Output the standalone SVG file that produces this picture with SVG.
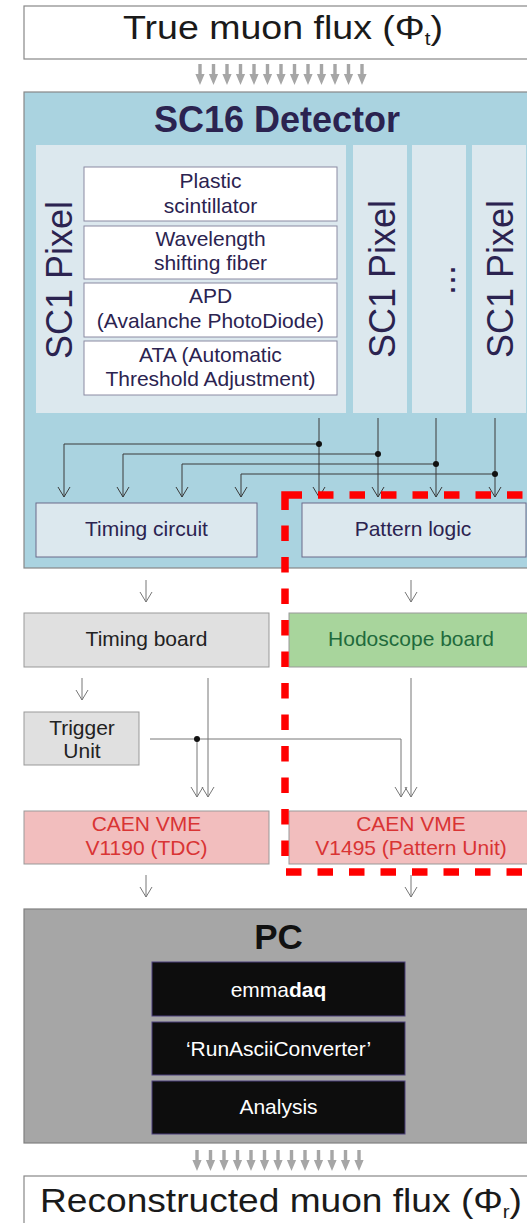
<svg xmlns="http://www.w3.org/2000/svg" width="527" height="1223" viewBox="0 0 527 1223">
<style>
text{font-family:"Liberation Sans",Arial,sans-serif}
.nv{fill:#2b2350}
.lb{font-size:21px;text-anchor:middle}
.cd{fill:none;stroke:#3a3a3a;stroke-width:1}
.cg{fill:none;stroke:#777;stroke-width:1}
.inner{fill:#fff;stroke:#8a8aa2;stroke-width:1}
.col{fill:#dce8ee}
.blk{fill:#0d0d0d;stroke:#4a3f7a;stroke-width:1}
.red{fill:none;stroke:#ff0000;stroke-width:7.5}
</style>
<defs>
<marker id="ad" viewBox="-11 -7 12 14" refX="0" refY="0" markerWidth="12" markerHeight="14" markerUnits="userSpaceOnUse" orient="auto"><path d="M-10,-6 L0,0 L-10,6" fill="none" stroke="#3a3a3a" stroke-width="1"/></marker>
<marker id="ag" viewBox="-11 -7 12 14" refX="0" refY="0" markerWidth="12" markerHeight="14" markerUnits="userSpaceOnUse" orient="auto"><path d="M-10,-6 L0,0 L-10,6" fill="none" stroke="#777" stroke-width="1"/></marker>
<path id="fa" d="M-1.7,0 H1.7 V10 H4.6 L0,21 L-4.6,10 H-1.7 Z" fill="#a6a6a6"/>
</defs>

<g id="true-flux">
<rect x="24" y="6" width="520" height="53" fill="#fff" stroke="#888" stroke-width="1.2"/>
<text x="123" y="39" font-size="33" textLength="320" lengthAdjust="spacingAndGlyphs" fill="#1a1a1a">True muon flux (Φ<tspan font-size="18" dy="6">t</tspan><tspan dy="-6">)</tspan></text>
</g>

<g id="flux-arrows-top">
<use href="#fa" x="200" y="64"/><use href="#fa" x="213.5" y="64"/><use href="#fa" x="227" y="64"/><use href="#fa" x="240.5" y="64"/><use href="#fa" x="254" y="64"/><use href="#fa" x="267.5" y="64"/><use href="#fa" x="281" y="64"/><use href="#fa" x="294.5" y="64"/><use href="#fa" x="308" y="64"/><use href="#fa" x="321.5" y="64"/><use href="#fa" x="335" y="64"/><use href="#fa" x="348.5" y="64"/><use href="#fa" x="362" y="64"/>
</g>

<g id="sc16-detector">
<rect x="24" y="92" width="520" height="476" fill="#aad3e0" stroke="#888" stroke-width="1.2"/>
<text x="277" y="132" font-size="36" font-weight="bold" text-anchor="middle" class="nv">SC16 Detector</text>
</g>

<g id="pixel-1">
<rect class="col" x="36" y="145" width="310" height="268"/>
<text transform="translate(71.5,280) rotate(-90)" font-size="36" text-anchor="middle" class="nv">SC1 Pixel</text>
</g>
<g id="plastic-scintillator">
<rect class="inner" x="84" y="167" width="253" height="54"/>
<text class="lb nv" x="210.5" y="188">Plastic</text>
<text class="lb nv" x="210.5" y="213">scintillator</text>
</g>
<g id="wls-fiber">
<rect class="inner" x="84" y="226" width="253" height="53"/>
<text class="lb nv" x="210.5" y="246">Wavelength</text>
<text class="lb nv" x="210.5" y="270">shifting fiber</text>
</g>
<g id="apd">
<rect class="inner" x="84" y="283" width="253" height="54"/>
<text class="lb nv" x="210.5" y="303">APD</text>
<text class="lb nv" x="210.5" y="328">(Avalanche PhotoDiode)</text>
</g>
<g id="ata">
<rect class="inner" x="84" y="341" width="253" height="54"/>
<text class="lb nv" x="210.5" y="362">ATA (Automatic</text>
<text class="lb nv" x="210.5" y="386">Threshold Adjustment)</text>
</g>
<g id="pixel-2">
<rect class="col" x="353" y="145" width="54" height="268"/>
<text transform="translate(395,279) rotate(-90)" font-size="36" text-anchor="middle" class="nv">SC1 Pixel</text>
</g>
<g id="pixel-dots">
<rect class="col" x="412" y="145" width="54" height="268"/>
<text transform="translate(455,280) rotate(-90)" font-size="36" text-anchor="middle" class="nv">...</text>
</g>
<g id="pixel-n">
<rect class="col" x="472" y="145" width="54" height="268"/>
<text transform="translate(513,279) rotate(-90)" font-size="36" text-anchor="middle" class="nv">SC1 Pixel</text>
</g>

<g id="timing-circuit">
<rect x="36" y="503" width="221" height="54" fill="#dce8ee" stroke="#6a6a8a" stroke-width="1"/>
<text class="lb nv" x="146.5" y="536">Timing circuit</text>
</g>
<g id="pattern-logic">
<rect x="302" y="503" width="224" height="54" fill="#dce8ee" stroke="#6a6a8a" stroke-width="1"/>
<text class="lb nv" x="413" y="536">Pattern logic</text>
</g>

<g id="timing-board">
<rect x="24" y="613" width="245" height="54" fill="#e0e0e0" stroke="#999" stroke-width="1"/>
<text class="lb" x="146.5" y="646" fill="#222">Timing board</text>
</g>
<g id="hodoscope-board">
<rect x="289" y="613" width="250" height="54" fill="#a8d59c" stroke="#999" stroke-width="1"/>
<text class="lb" x="411" y="646" fill="#1f6b3c">Hodoscope board</text>
</g>
<g id="trigger-unit">
<rect x="24" y="712" width="115" height="53" fill="#e0e0e0" stroke="#999" stroke-width="1"/>
<text class="lb" x="82" y="735" fill="#222">Trigger</text>
<text class="lb" x="82" y="758" fill="#222">Unit</text>
</g>
<g id="caen-v1190">
<rect x="24" y="811" width="245" height="53" fill="#f2bebe" stroke="#999" stroke-width="1"/>
<text class="lb" x="146.5" y="830.5" fill="#d93434">CAEN VME</text>
<text class="lb" x="146.5" y="855" fill="#d93434">V1190 (TDC)</text>
</g>
<g id="caen-v1495">
<rect x="289" y="811" width="250" height="53" fill="#f2bebe" stroke="#999" stroke-width="1"/>
<text class="lb" x="411" y="830.5" fill="#d93434">CAEN VME</text>
<text class="lb" x="411" y="855" fill="#d93434">V1495 (Pattern Unit)</text>
</g>

<g id="pc">
<rect x="24" y="909" width="520" height="234" fill="#a6a6a6" stroke="#808080" stroke-width="1.2"/>
<text x="278.5" y="949" font-size="35" font-weight="bold" text-anchor="middle" fill="#111">PC</text>
</g>
<g id="emmadaq">
<rect class="blk" x="152" y="962" width="253" height="54"/>
<text class="lb" x="278.5" y="997" fill="#fff">emma<tspan font-weight="bold">daq</tspan></text>
</g>
<g id="runascii">
<rect class="blk" x="152" y="1022" width="253" height="53"/>
<text class="lb" x="278.5" y="1056" fill="#fff">‘RunAsciiConverter’</text>
</g>
<g id="analysis">
<rect class="blk" x="152" y="1081" width="253" height="53"/>
<text class="lb" x="278.5" y="1114" fill="#fff">Analysis</text>
</g>

<g id="flux-arrows-bottom">
<use href="#fa" x="197" y="1150"/><use href="#fa" x="210.5" y="1150"/><use href="#fa" x="224" y="1150"/><use href="#fa" x="237.5" y="1150"/><use href="#fa" x="251" y="1150"/><use href="#fa" x="264.5" y="1150"/><use href="#fa" x="278" y="1150"/><use href="#fa" x="291.5" y="1150"/><use href="#fa" x="305" y="1150"/><use href="#fa" x="318.5" y="1150"/><use href="#fa" x="332" y="1150"/><use href="#fa" x="345.5" y="1150"/><use href="#fa" x="359" y="1150"/>
</g>

<g id="reconstructed-flux">
<rect x="24" y="1176" width="520" height="60" fill="#fff" stroke="#888" stroke-width="1.2"/>
<text x="40" y="1212" font-size="33" textLength="482" lengthAdjust="spacingAndGlyphs" fill="#1a1a1a">Reconstructed muon flux (Φ<tspan font-size="18" dy="6">r</tspan><tspan dy="-6">)</tspan></text>
</g>

<g id="connectors">
<path class="cd" d="M319,418 V497" marker-end="url(#ad)"/>
<path class="cd" d="M378,418 V497" marker-end="url(#ad)"/>
<path class="cd" d="M436,418 V497" marker-end="url(#ad)"/>
<path class="cd" d="M495,418 V497" marker-end="url(#ad)"/>
<path class="cd" d="M319,444 H64 V497" marker-end="url(#ad)"/>
<path class="cd" d="M378,454 H123 V497" marker-end="url(#ad)"/>
<path class="cd" d="M436,464 H182 V497" marker-end="url(#ad)"/>
<path class="cd" d="M495,474 H241 V497" marker-end="url(#ad)"/>
<circle cx="319" cy="444" r="3" fill="#111"/>
<circle cx="378" cy="454" r="3" fill="#111"/>
<circle cx="436" cy="464" r="3" fill="#111"/>
<circle cx="495" cy="474" r="3" fill="#111"/>
<path class="cg" d="M146,580 V602" marker-end="url(#ag)"/>
<path class="cg" d="M411,580 V602" marker-end="url(#ag)"/>
<path class="cg" d="M82,678 V700" marker-end="url(#ag)"/>
<path class="cg" d="M208,678 V797" marker-end="url(#ag)"/>
<path class="cg" d="M411,678 V797" marker-end="url(#ag)"/>
<path class="cg" d="M150,739 H401 V797" marker-end="url(#ag)"/>
<path class="cg" d="M197,739 V797" marker-end="url(#ag)"/>
<circle cx="197" cy="739" r="3" fill="#111"/>
<path class="cg" d="M146,875 V897" marker-end="url(#ag)"/>
<path class="cg" d="M411,875 V897" marker-end="url(#ag)"/>
</g>

<g id="pattern-unit-highlight">
<path class="red" d="M285,510 V495 H302"/>
<path class="red" d="M302,495 H540" stroke-dasharray="15.5 16" stroke-dashoffset="15.5"/>
<path class="red" d="M285,510 V872" stroke-dasharray="15.5 16" stroke-dashoffset="16"/>
<path class="red" d="M286,872 H540" stroke-dasharray="15.5 16"/>
</g>
</svg>
